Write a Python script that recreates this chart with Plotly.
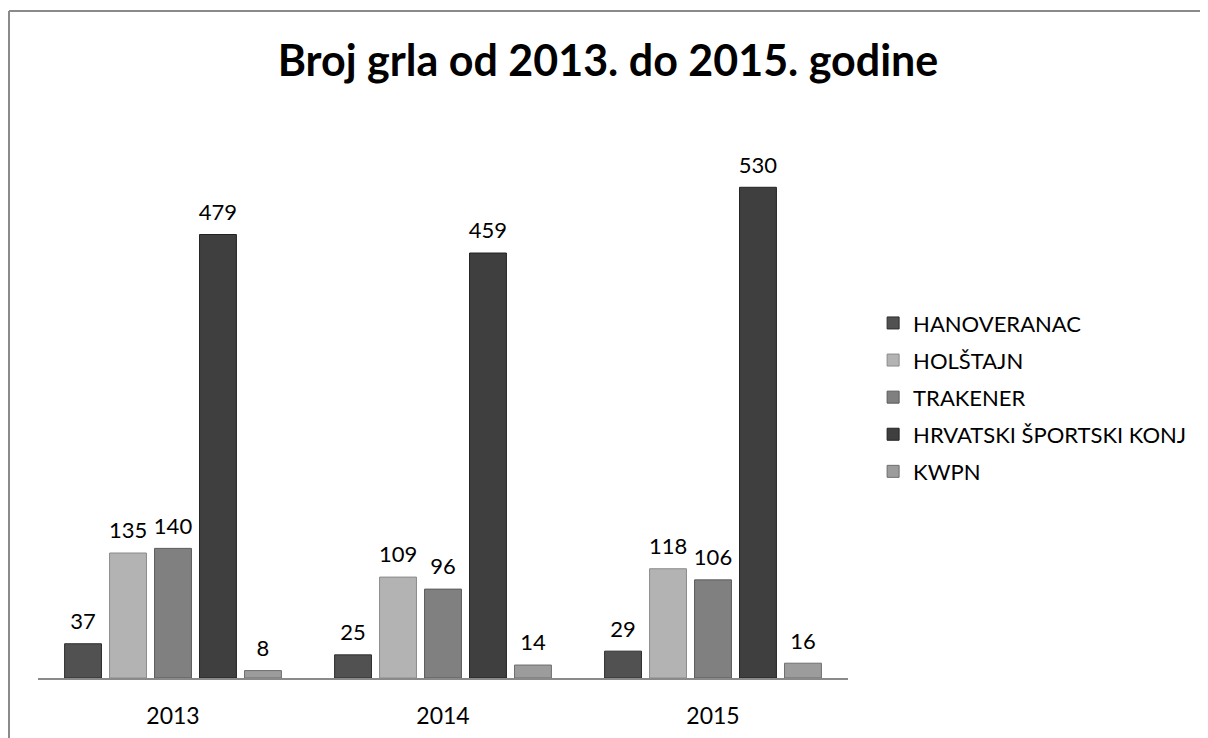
import plotly.graph_objects as go

years = ["2013", "2014", "2015"]
series_names = ["HANOVERANAC", "HOLŠTAJN", "TRAKENER", "HRVATSKI ŠPORTSKI KONJ", "KWPN"]
hanoveranac = [37, 25, 29]
holstajn = [135, 109, 118]
trakener = [140, 96, 106]
hrvatski = [479, 459, 530]
kwpn = [8, 14, 16]
colors = ["#515151", "#b3b3b3", "#808080", "#3f3f3f", "#9c9c9c"]
line_colors = ["#2e2e2e", "#8a8a8a", "#5a5a5a", "#222222", "#6e6e6e"]

values = [hanoveranac, holstajn, trakener, hrvatski, kwpn]

FONT = "Lato, Calibri, 'Open Sans', sans-serif"

fig = go.Figure()
for i, (name, vals) in enumerate(zip(series_names, values)):
    fig.add_trace(go.Bar(
        x=years, y=vals, name=name,
        marker=dict(color=colors[i], line=dict(color=line_colors[i], width=1)),
        legendgroup=name, offsetgroup=str(i),
    ))
for i, (name, vals) in enumerate(zip(series_names, values)):
    fig.add_trace(go.Scatter(
        x=years, y=vals, mode="markers+text", name=name,
        marker=dict(size=13, opacity=0),
        text=[str(v) for v in vals], textposition="top center",
        textfont=dict(size=22, color="#000000", family=FONT),
        cliponaxis=False, showlegend=False, hoverinfo="skip",
        offsetgroup=str(i),
    ))

fig.update_layout(
    width=1200, height=730,
    barmode="group", bargap=0.167, bargroupgap=0.18,
    scattermode="group", scattergap=0.167,
    paper_bgcolor="white", plot_bgcolor="white",
    margin=dict(l=30, r=360, t=133, b=60),
    title=dict(text="<b>Broj grla od 2013. do 2015. godine</b>",
               x=0.5, xanchor="center", y=0.9274, yanchor="middle",
               font=dict(size=43, color="#000000", family=FONT)),
    font=dict(family=FONT, color="#000000"),
    legend=dict(x=1.031, xanchor="left", y=0.523, yanchor="middle",
                font=dict(size=22, color="#000000", family=FONT),
                tracegroupgap=5.5, itemclick=False),
    xaxis=dict(showline=True, linecolor="#8a8a8a", linewidth=2, ticks="",
               tickfont=dict(size=23, color="#000000", family=FONT),
               ticklabelstandoff=16, automargin=False,
               showgrid=False, zeroline=False),
    yaxis=dict(range=[0, 580], visible=False, showgrid=False, zeroline=False,
               automargin=False),
    shapes=[
        dict(type="line", xref="paper", yref="paper", x0=-0.0358, x1=1.5,
             y0=1.242, y1=1.242, line=dict(color="#8a8a8a", width=2)),
        dict(type="line", xref="paper", yref="paper", x0=-0.0358, x1=-0.0358,
             y0=1.242, y1=-0.2, line=dict(color="#8a8a8a", width=2)),
    ],
)

fig.write_html("out.html")
